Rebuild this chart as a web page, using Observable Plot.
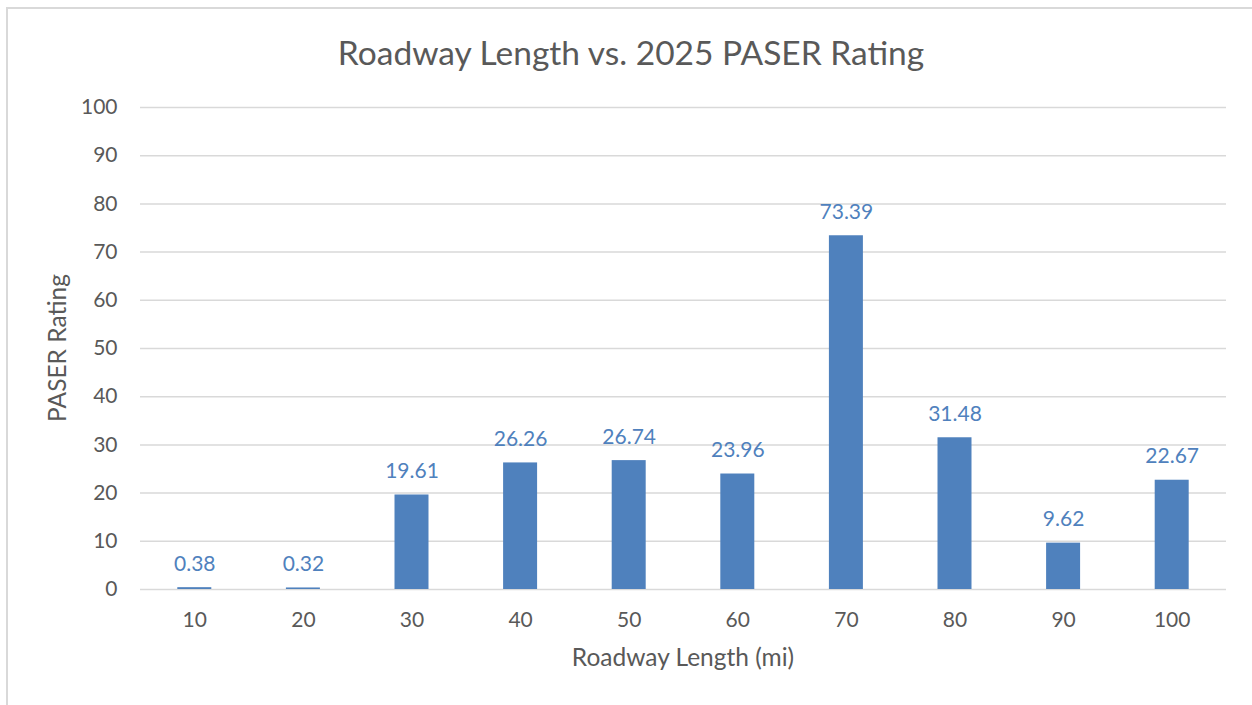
<!DOCTYPE html>
<html>
<head>
<meta charset="utf-8">
<script src="https://cdn.jsdelivr.net/npm/d3@7"></script>
<script src="https://cdn.jsdelivr.net/npm/@observablehq/plot@0.6"></script>
<style>
  html, body { margin: 0; padding: 0; background: #fff; }
  body { width: 1252px; height: 705px; position: relative; overflow: hidden; font-family: Lato, "Open Sans", sans-serif; }
  #frame { position: absolute; left: 6px; top: 7px; width: 1260px; height: 720px; border-left: 2px solid #d9d9d9; border-top: 2px solid #d9d9d9; }
  #title { position: absolute; left: 0; width: 1262px; top: 31px; text-align: center; font-size: 33.5px; color: #595959; line-height: 42px; }
  #chart { position: absolute; left: 0; top: 85px; }
</style>
</head>
<body>
<div id="frame"></div>
<div id="title">Roadway Length vs. 2025 PASER Rating</div>
<div id="chart"></div>
<script>
const categories = ["10", "20", "30", "40", "50", "60", "70", "80", "90", "100"];
const ratings = [0.38, 0.32, 19.61, 26.26, 26.74, 23.96, 73.39, 31.48, 9.62, 22.67];
const yTicks = [0, 10, 20, 30, 40, 50, 60, 70, 80, 90, 100];

const data = categories.map((c, i) => ({length: c, rating: ratings[i]}));

const barColor = "#4f81bd";
const textColor = "#595959";
const font = "Lato, 'Open Sans', sans-serif";

const chart = Plot.plot({
  width: 1252,
  height: 620,
  marginLeft: 140,
  marginRight: 26,
  marginTop: 22,
  marginBottom: 116,
  style: { fontFamily: font, fontSize: "20px", color: textColor, background: "transparent" },
  x: { domain: categories, paddingInner: 0.687, paddingOuter: 0.3435, round: false, label: null },
  y: { domain: [0, 100], label: null },
  marks: [
    Plot.gridY(yTicks, { stroke: "#d9d9d9", strokeOpacity: 1, strokeWidth: 1.5 }),
    Plot.barY(data, { x: "length", y: "rating", fill: barColor }),
    Plot.text(data, { x: "length", y: "rating", text: d => d.rating.toFixed(2), lineAnchor: "bottom", dy: -17, fill: barColor, fontSize: 21 }),
    Plot.axisY(yTicks, { tickSize: 0, tickPadding: 23, fontSize: 21, fill: textColor, label: null }),
    Plot.axisX({ tickSize: 0, tickPadding: 23, fontSize: 21, fill: textColor, label: null })
  ]
});
document.getElementById("chart").appendChild(chart);

const svg = d3.select(chart);
const ys = chart.scale("y");
const cy = (ys.range[0] + ys.range[1]) / 2;
svg.append("text")
  .attr("x", 683).attr("y", 575)
  .attr("text-anchor", "middle").attr("dominant-baseline", "middle")
  .attr("fill", textColor).attr("font-size", 24.5)
  .attr("font-family", font)
  .text("Roadway Length (mi)");
svg.append("text")
  .attr("transform", `translate(60,${cy}) rotate(-90)`)
  .attr("text-anchor", "middle").attr("dominant-baseline", "middle")
  .attr("fill", textColor).attr("font-size", 24.5)
  .attr("font-family", font)
  .text("PASER Rating");
</script>
</body>
</html>
